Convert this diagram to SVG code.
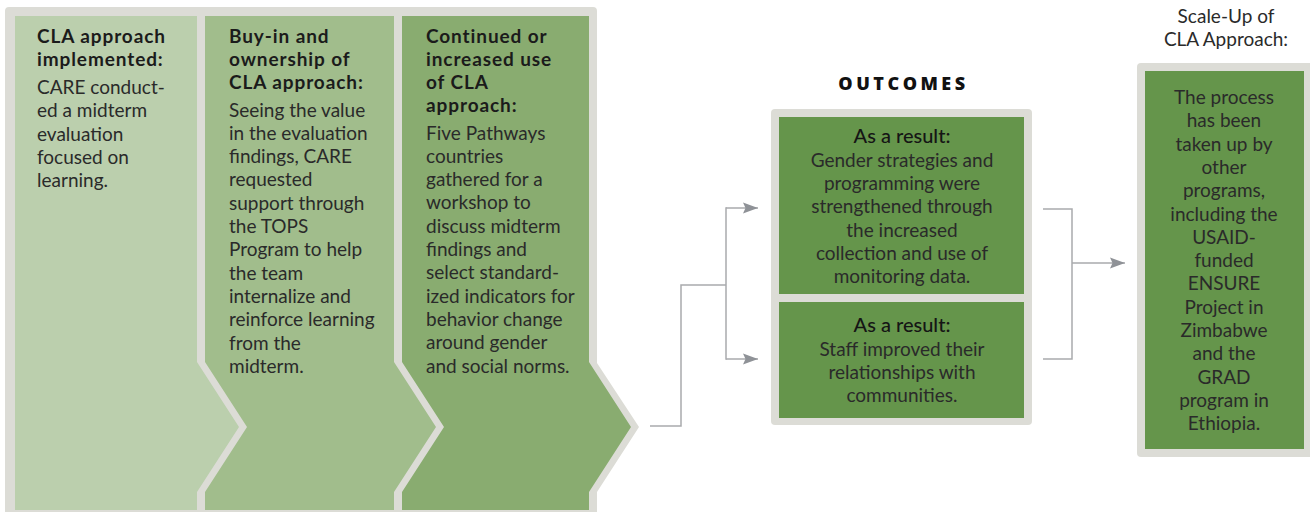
<svg xmlns="http://www.w3.org/2000/svg" width="1310" height="512" viewBox="0 0 1310 512">
<style>
  .frame{fill:#dcdcd6}
  .head{font-family:Lato,"Open Sans",sans-serif;font-weight:700;font-size:19px;letter-spacing:0.9px;fill:#1b1b1b}
  .body{font-family:Lato,"Open Sans",sans-serif;font-weight:400;font-size:19px;fill:#2a2a2a}
  .res{font-family:Lato,"Open Sans",sans-serif;font-weight:500;font-size:20px;fill:#151515}
  .ctr{text-anchor:middle}
  .box{fill:#65954b}
  .conn{fill:none;stroke:#a9aaad;stroke-width:1.5}
</style>
<defs>
  <marker id="arr" markerUnits="userSpaceOnUse" markerWidth="16" markerHeight="12" refX="15" refY="6" orient="auto">
    <path d="M0,0.5 L15,6 L0,11.5 L2.5,6 z" fill="#8f9297"/>
  </marker>
</defs>

<g id="process-frame">
  <path class="frame" d="M9,7 L593,7 Q597,7 597,11 L597,363 L639,427 L597,492 L597,514 L5,514 L5,11 Q5,7 9,7 Z"/>
</g>

<g id="step1">
  <polygon fill="#bbcfad" points="15,16 197,16 197,362 239,427 197,492 197,510 15,510"/>
  <text class="head" x="37" y="42.5">CLA approach</text>
  <text class="head" x="37" y="65.5">implemented:</text>
  <text class="body" x="37" y="94">CARE conduct-</text>
  <text class="body" x="37" y="117.3">ed a midterm</text>
  <text class="body" x="37" y="140.6">evaluation</text>
  <text class="body" x="37" y="163.9">focused on</text>
  <text class="body" x="37" y="187.2">learning.</text>
</g>

<g id="step2">
  <polygon fill="#a1bd8c" points="205,16 394,16 394,362 436,427 394,492 394,510 205,510 205,492 247,427 205,362"/>
  <text class="head" x="229" y="42.5">Buy-in and</text>
  <text class="head" x="229" y="65.5">ownership of</text>
  <text class="head" x="229" y="88.5">CLA approach:</text>
  <text class="body" x="229" y="116.5">Seeing the value</text>
  <text class="body" x="229" y="139.8">in the evaluation</text>
  <text class="body" x="229" y="163.1">findings, CARE</text>
  <text class="body" x="229" y="186.4">requested</text>
  <text class="body" x="229" y="209.7">support through</text>
  <text class="body" x="229" y="233">the TOPS</text>
  <text class="body" x="229" y="256.3">Program to help</text>
  <text class="body" x="229" y="279.6">the team</text>
  <text class="body" x="229" y="302.9">internalize and</text>
  <text class="body" x="229" y="326.2">reinforce learning</text>
  <text class="body" x="229" y="349.5">from the</text>
  <text class="body" x="229" y="372.8">midterm.</text>
</g>

<g id="step3">
  <polygon fill="#89ac70" points="402,16 589,16 589,362 631,427 589,492 589,510 402,510 402,492 444,427 402,362"/>
  <text class="head" x="426" y="42.5">Continued or</text>
  <text class="head" x="426" y="65.5">increased use</text>
  <text class="head" x="426" y="88.5">of CLA</text>
  <text class="head" x="426" y="111.5">approach:</text>
  <text class="body" x="426" y="139.5">Five Pathways</text>
  <text class="body" x="426" y="162.8">countries</text>
  <text class="body" x="426" y="186.1">gathered for a</text>
  <text class="body" x="426" y="209.4">workshop to</text>
  <text class="body" x="426" y="232.7">discuss midterm</text>
  <text class="body" x="426" y="256">findings and</text>
  <text class="body" x="426" y="279.3">select standard-</text>
  <text class="body" x="426" y="302.6">ized indicators for</text>
  <text class="body" x="426" y="325.9">behavior change</text>
  <text class="body" x="426" y="349.2">around gender</text>
  <text class="body" x="426" y="372.5">and social norms.</text>
</g>

<g id="outcomes-title">
  <text x="903.5" y="90" text-anchor="middle" font-family="'Open Sans',Lato,sans-serif" font-weight="800" font-size="18" letter-spacing="3.5" fill="#111">OUTCOMES</text>
</g>

<g id="outcomes">
  <rect class="frame" x="771" y="109" width="261" height="316" rx="4"/>
  <g id="outcome1">
    <rect class="box" x="779" y="117" width="245" height="177"/>
    <text class="res ctr" x="902" y="143">As a result:</text>
    <text class="body ctr" x="902" y="167">Gender strategies and</text>
    <text class="body ctr" x="902" y="190.2">programming were</text>
    <text class="body ctr" x="902" y="213.4">strengthened through</text>
    <text class="body ctr" x="902" y="236.6">the increased</text>
    <text class="body ctr" x="902" y="259.8">collection and use of</text>
    <text class="body ctr" x="902" y="283">monitoring data.</text>
  </g>
  <g id="outcome2">
    <rect class="box" x="779" y="302" width="245" height="116"/>
    <text class="res ctr" x="902" y="332">As a result:</text>
    <text class="body ctr" x="902" y="356">Staff improved their</text>
    <text class="body ctr" x="902" y="379">relationships with</text>
    <text class="body ctr" x="902" y="402">communities.</text>
  </g>
</g>

<g id="scaleup">
  <text class="body ctr" x="1226" y="23" fill="#1b1b1b">Scale-Up of</text>
  <text class="body ctr" x="1226" y="46" fill="#1b1b1b">CLA Approach:</text>
  <rect class="frame" x="1137" y="63" width="176" height="394" rx="4"/>
  <rect class="box" x="1145" y="71" width="159" height="378"/>
  <text class="body ctr" x="1224" y="104">The process</text>
  <text class="body ctr" x="1224" y="127.3">has been</text>
  <text class="body ctr" x="1224" y="150.6">taken up by</text>
  <text class="body ctr" x="1224" y="173.9">other</text>
  <text class="body ctr" x="1224" y="197.2">programs,</text>
  <text class="body ctr" x="1224" y="220.5">including the</text>
  <text class="body ctr" x="1224" y="243.8">USAID-</text>
  <text class="body ctr" x="1224" y="267.1">funded</text>
  <text class="body ctr" x="1224" y="290.4">ENSURE</text>
  <text class="body ctr" x="1224" y="313.7">Project in</text>
  <text class="body ctr" x="1224" y="337">Zimbabwe</text>
  <text class="body ctr" x="1224" y="360.3">and the</text>
  <text class="body ctr" x="1224" y="383.6">GRAD</text>
  <text class="body ctr" x="1224" y="406.9">program in</text>
  <text class="body ctr" x="1224" y="430.2">Ethiopia.</text>
</g>

<g id="connectors">
  <polyline class="conn" points="650,426 681,426 681,285 726,285"/>
  <line class="conn" x1="726" y1="207.3" x2="726" y2="359.7"/>
  <line class="conn" x1="726" y1="208" x2="758" y2="208" marker-end="url(#arr)"/>
  <line class="conn" x1="726" y1="359" x2="758" y2="359" marker-end="url(#arr)"/>
  <polyline class="conn" points="1043,209 1072,209 1072,359 1043,359"/>
  <line class="conn" x1="1072" y1="263" x2="1125" y2="263" marker-end="url(#arr)"/>
</g>
</svg>
